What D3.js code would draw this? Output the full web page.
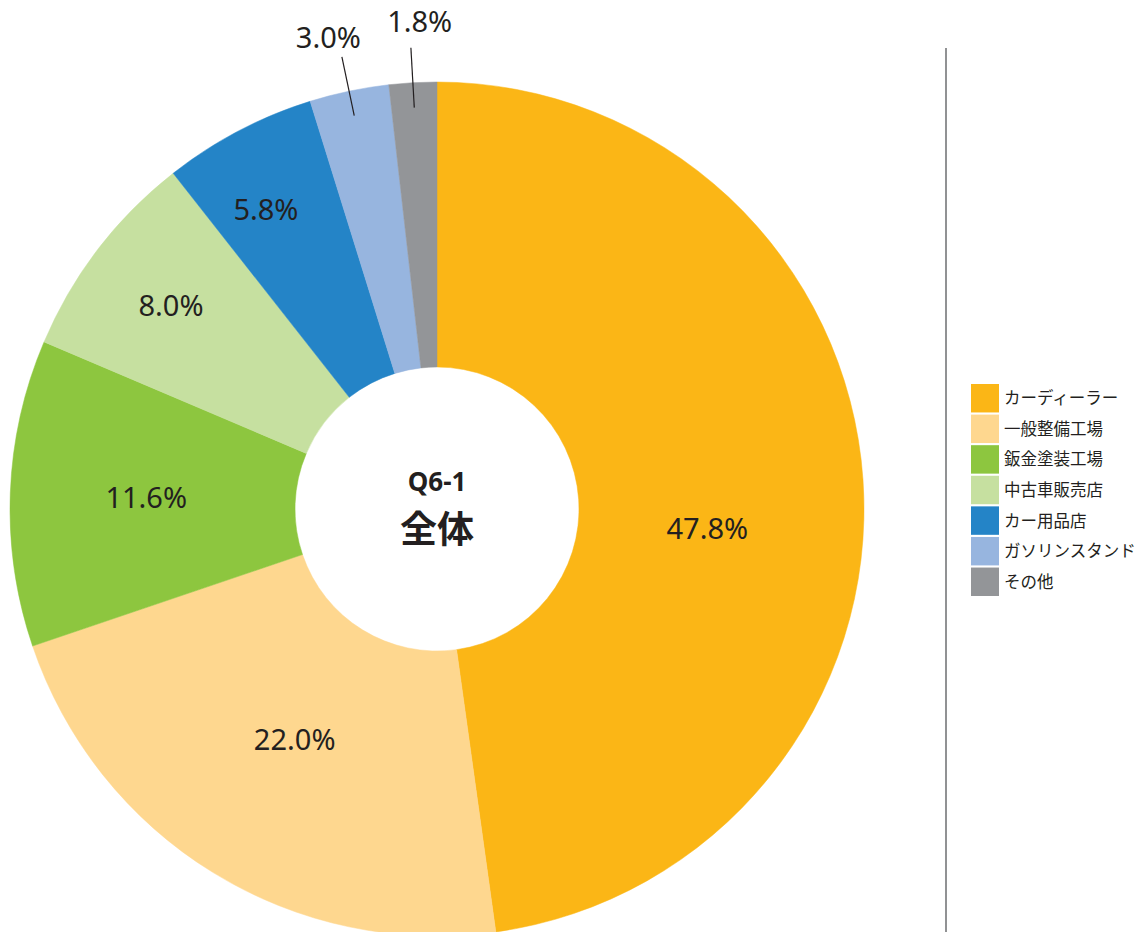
<!DOCTYPE html>
<html>
<head>
<meta charset="utf-8">
<script src="https://cdn.jsdelivr.net/npm/d3@7"></script>
<style>
  body { margin: 0; background: #fff; }
  svg text { font-family: "Noto Sans", "Noto Sans CJK JP", sans-serif; }
</style>
</head>
<body>
<div id="chart"></div>
<script>
// data
var categories = ["カーディーラー", "一般整備工場", "鈑金塗装工場", "中古車販売店", "カー用品店", "ガソリンスタンド", "その他"];
var values = [47.8, 22.0, 11.6, 8.0, 5.8, 3.0, 1.8];
var colors = ["#fbb616", "#fed78f", "#8dc63f", "#c6e0a0", "#2484c7", "#97b5df", "#939598"];
var titleLines = ["Q6-1", "全体"];

var width = 1145, height = 932;
var cx = 437, cy = 509;
var outerR = 427, innerR = 142;

var svg = d3.select("#chart").append("svg")
    .attr("width", width)
    .attr("height", height);

var data = categories.map(function(c, i) {
  return { name: c, value: values[i], color: colors[i] };
});

var pie = d3.pie()
    .sort(null)
    .value(d => d.value);

var arc = d3.arc()
    .innerRadius(innerR)
    .outerRadius(outerR);

var arcs = pie(data);

var g = svg.append("g")
    .attr("transform", "translate(" + cx + "," + cy + ")");

g.selectAll("path.slice")
    .data(arcs)
    .enter().append("path")
    .attr("class", "slice")
    .attr("d", arc)
    .attr("fill", d => d.data.color)
    .attr("stroke", d => d.data.color)
    .attr("stroke-width", 0.5);

// point at radius r along a slice (shift = extra angle in radians)
function polar(d, r, shift) {
  var a = (d.startAngle + d.endAngle) / 2 + (shift || 0);
  return [r * Math.sin(a), -r * Math.cos(a)];
}

// labels inside the bigger slices
function labelR(v) {
  if (v > 15) return 271;
  if (v > 10) return 291;
  if (v > 7) return 335;
  return 345;
}
function labelShift(v) {
  if (v > 40) return 0.14;
  if (v < 7) return -0.035;
  return 0;
}

var inside = arcs.filter(d => d.data.value >= 5);
var outside = arcs.filter(d => d.data.value < 5);

g.selectAll("text.inlabel")
    .data(inside)
    .enter().append("text")
    .attr("class", "inlabel")
    .attr("x", d => polar(d, labelR(d.data.value), labelShift(d.data.value))[0])
    .attr("y", d => polar(d, labelR(d.data.value), labelShift(d.data.value))[1])
    .attr("dy", "0.36em")
    .attr("text-anchor", "middle")
    .style("font-size", "29px")
    .style("fill", "#231f20")
    .text(d => d.data.value.toFixed(1) + "%");

// small slices get a leader line and an outside label
g.selectAll("line.leader")
    .data(outside)
    .enter().append("line")
    .attr("class", "leader")
    .attr("x1", d => polar(d, 402)[0])
    .attr("y1", d => polar(d, 402)[1])
    .attr("x2", d => polar(d, 462)[0])
    .attr("y2", d => polar(d, 462)[1])
    .attr("stroke", "#231f20")
    .attr("stroke-width", 1.2);

g.selectAll("text.outlabel")
    .data(outside)
    .enter().append("text")
    .attr("class", "outlabel")
    .attr("x", (d, i) => polar(d, 484)[0] + (i === 0 ? -9 : 10))
    .attr("y", (d, i) => polar(d, 484)[1] + (i === 0 ? 2 : -4))
    .attr("dy", "0.36em")
    .attr("text-anchor", "middle")
    .style("font-size", "29px")
    .style("fill", "#231f20")
    .text(d => d.data.value.toFixed(1) + "%");

// center title
g.append("text")
    .attr("y", -27)
    .attr("dy", "0.36em")
    .attr("text-anchor", "middle")
    .style("font-size", "26px")
    .style("font-weight", "bold")
    .style("fill", "#231f20")
    .text(titleLines[0]);

g.append("text")
    .attr("y", 21)
    .attr("dy", "0.36em")
    .attr("text-anchor", "middle")
    .style("font-family", "'Noto Sans CJK JP', sans-serif")
    .style("font-size", "37px")
    .style("font-weight", "bold")
    .style("fill", "#231f20")
    .text(titleLines[1]);

// divider
svg.append("line")
    .attr("x1", 946).attr("x2", 946)
    .attr("y1", 48).attr("y2", height)
    .attr("stroke", "#6d6e71")
    .attr("stroke-width", 1.5);

// legend
var legendY = d3.scaleBand()
    .domain(categories)
    .range([384, 596])
    .paddingInner(0.07);

var legend = svg.append("g");

var item = legend.selectAll("g")
    .data(data)
    .enter().append("g")
    .attr("transform", d => "translate(971," + legendY(d.name) + ")");

item.append("rect")
    .attr("width", 28)
    .attr("height", legendY.bandwidth())
    .attr("fill", d => d.color);

item.append("text")
    .attr("x", 33)
    .attr("y", legendY.bandwidth() / 2)
    .attr("dy", "0.36em")
    .style("font-family", "'Noto Sans CJK JP', sans-serif")
    .style("font-size", "16.5px")
    .style("fill", "#231f20")
    .text(d => d.name);
</script>
</body>
</html>
